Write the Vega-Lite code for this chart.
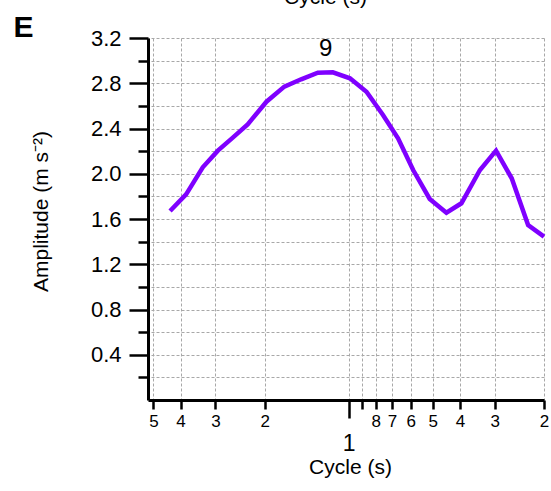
{
  "$schema": "https://vega.github.io/schema/vega-lite/v6.json",
  "autosize": {"type": "none"},
  "padding": {"left": 148, "top": 38, "right": 7, "bottom": 91},
  "width": 396,
  "height": 362,
  "background": "white",
  "config": {
    "view": {"stroke": null},
    "axis": {
      "labelFont": "Liberation Sans",
      "titleFont": "Liberation Sans",
      "titleFontWeight": "normal",
      "domainColor": "black",
      "tickColor": "black",
      "labelColor": "black",
      "titleColor": "black",
      "gridColor": "#a8a8a8",
      "gridDash": [3, 2],
      "gridWidth": 1
    }
  },
  "resolve": {"axis": {"x": "independent", "y": "independent"}},
  "layer": [
    {
      "data": {
        "values": [
          {"cycle": 4.36, "amplitude": 1.671},
          {"cycle": 3.82, "amplitude": 1.818},
          {"cycle": 3.33, "amplitude": 2.057},
          {"cycle": 2.94, "amplitude": 2.204},
          {"cycle": 2.60, "amplitude": 2.319},
          {"cycle": 2.30, "amplitude": 2.437},
          {"cycle": 1.97, "amplitude": 2.637},
          {"cycle": 1.70, "amplitude": 2.770},
          {"cycle": 1.48, "amplitude": 2.835},
          {"cycle": 1.29, "amplitude": 2.893},
          {"cycle": 1.14, "amplitude": 2.897},
          {"cycle": 0.99, "amplitude": 2.844},
          {"cycle": 0.864, "amplitude": 2.725},
          {"cycle": 0.754, "amplitude": 2.519},
          {"cycle": 0.666, "amplitude": 2.313},
          {"cycle": 0.588, "amplitude": 2.033},
          {"cycle": 0.513, "amplitude": 1.777},
          {"cycle": 0.447, "amplitude": 1.656},
          {"cycle": 0.395, "amplitude": 1.739},
          {"cycle": 0.339, "amplitude": 2.033},
          {"cycle": 0.297, "amplitude": 2.204},
          {"cycle": 0.261, "amplitude": 1.960},
          {"cycle": 0.228, "amplitude": 1.547},
          {"cycle": 0.2, "amplitude": 1.444}
        ]
      },
      "mark": {"type": "line", "color": "#7F00FF", "strokeWidth": 4.5},
      "encoding": {
        "x": {
          "field": "cycle",
          "type": "quantitative",
          "scale": {"type": "log", "domain": [0.2, 5.23], "reverse": true, "nice": false},
          "axis": {
            "orient": "bottom",
            "values": [5, 4, 3, 2, 1, 0.9, 0.8, 0.7, 0.6, 0.5, 0.4, 0.3, 0.2],
            "labelExpr": "datum.value >= 1 ? format(datum.value, 'd') : (abs(datum.value - 0.9) < 0.01 ? '' : format(round(datum.value * 10), 'd'))",
            "labelFontSize": {"condition": {"test": "datum.value == 1", "value": 23}, "value": 17},
            "tickSize": {"condition": {"test": "datum.value == 1", "value": 18}, "value": 9},
            "labelPadding": {"condition": {"test": "datum.value == 1", "value": 14}, "value": 4},
            "tickWidth": 2.5,
            "domainWidth": 3,
            "labelFlush": false,
            "labelOverlap": false,
            "labelBound": false,
            "grid": true,
            "title": "Cycle (s)",
            "titleFontSize": 21,
            "titleX": 202,
            "titleY": 73,
            "titleAlign": "center",
            "titleBaseline": "alphabetic"
          }
        },
        "y": {
          "field": "amplitude",
          "type": "quantitative",
          "scale": {"domain": [0, 3.2], "nice": false},
          "axis": {
            "orient": "left",
            "values": [0.2, 0.4, 0.6, 0.8, 1.0, 1.2, 1.4, 1.6, 1.8, 2.0, 2.2, 2.4, 2.6, 2.8, 3.0, 3.2],
            "labelExpr": "round(datum.value * 10) % 4 == 0 ? format(datum.value, '.1f') : ''",
            "labelFontSize": 22,
            "tickSize": {"condition": {"test": "round(datum.value * 10) % 4 == 0", "value": 19}, "value": 10},
            "labelPadding": 8,
            "tickWidth": 2.5,
            "domainWidth": 3,
            "labelOverlap": false,
            "labelFlush": false,
            "labelBound": false,
            "grid": true,
            "title": "Amplitude (m s⁻²)",
            "titleFontSize": 21,
            "titleAngle": -90,
            "titleX": -101,
            "titleY": 173,
            "titleAlign": "center",
            "titleBaseline": "alphabetic"
          }
        }
      }
    },
    {
      "data": {"values": [{"cycle": 1.209, "amplitude": 3.103, "label": "9"}]},
      "mark": {"type": "text", "fontSize": 24, "font": "Liberation Sans", "baseline": "middle", "align": "center", "color": "black"},
      "encoding": {
        "x": {
          "field": "cycle",
          "type": "quantitative",
          "scale": {"type": "log", "domain": [0.2, 5.23], "reverse": true, "nice": false},
          "axis": {
            "orient": "top",
            "title": "Cycle (s)",
            "titleFontSize": 21,
            "titleX": 177,
            "titleY": -35,
            "titleAlign": "center",
            "titleBaseline": "alphabetic",
            "labels": false,
            "ticks": false,
            "domain": false,
            "grid": false
          }
        },
        "y": {
          "field": "amplitude",
          "type": "quantitative",
          "scale": {"domain": [0, 3.2], "nice": false},
          "axis": {
            "orient": "right",
            "title": "E",
            "titleAngle": 0,
            "titleFontSize": 30,
            "titleFontWeight": "bold",
            "titleX": -531,
            "titleY": -2,
            "titleAlign": "left",
            "titleBaseline": "alphabetic",
            "labels": false,
            "ticks": false,
            "domain": false,
            "grid": false
          }
        },
        "text": {"field": "label"}
      }
    }
  ]
}
